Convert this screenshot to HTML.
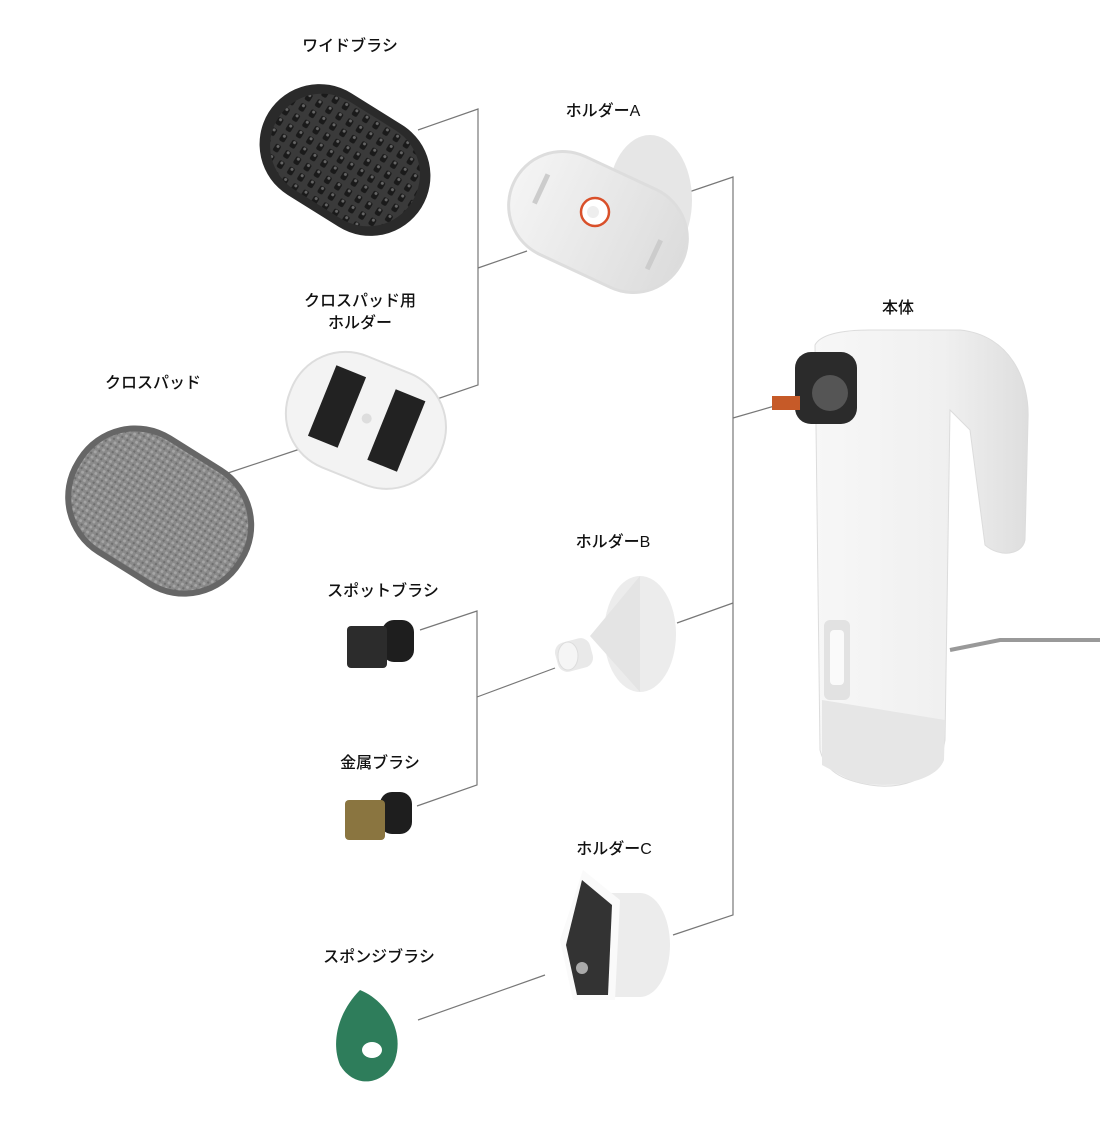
<!DOCTYPE html>
<html><head><meta charset="utf-8"><style>
html,body{margin:0;padding:0;background:#fff;}
svg{display:block;}
text{font-family:"Liberation Sans","Noto Sans CJK JP",sans-serif;font-size:16px;fill:#111;text-anchor:middle;font-weight:500;}
</style></head><body>
<svg width="1100" height="1138" viewBox="0 0 1100 1138">
<defs>
<pattern id="br" width="12" height="12" patternUnits="userSpaceOnUse"><rect width="12" height="12" fill="#3a3a3a"/><rect x="2" y="2" width="6" height="8" rx="2" fill="#1a1a1a"/><circle cx="5" cy="4" r="1.5" fill="#666"/></pattern>
<pattern id="cl" width="6" height="6" patternUnits="userSpaceOnUse"><rect width="6" height="6" fill="#8a8a8a"/><circle cx="2" cy="2" r="1.5" fill="#a5a5a5"/><circle cx="5" cy="5" r="1.2" fill="#6f6f6f"/></pattern>
<linearGradient id="wg" x1="0" x2="1"><stop offset="0" stop-color="#f4f4f4"/><stop offset="1" stop-color="#dcdcdc"/></linearGradient>
<linearGradient id="bg" x1="0" x2="1"><stop offset="0" stop-color="#f7f7f7"/><stop offset="0.6" stop-color="#f0f0f0"/><stop offset="1" stop-color="#dedede"/></linearGradient>
</defs>
<g stroke="#777" stroke-width="1.2" fill="none">
<polyline points="418,130 478,109 478,385 434,400"/>
<line x1="478" y1="268" x2="527" y2="251"/>
<polyline points="683,194 733,177 733,915 673,935"/>
<line x1="733" y1="418" x2="778" y2="405"/>
<line x1="677" y1="623" x2="733" y2="603"/>
<polyline points="420,630 477,611 477,785 417,806"/>
<line x1="477" y1="697" x2="555" y2="668"/>
<line x1="228" y1="473" x2="303" y2="448"/>
<line x1="418" y1="1020" x2="545" y2="975"/>
</g>
<text x="350" y="51">ワイドブラシ</text>
<text x="603" y="116">ホルダーA</text>
<text x="360" y="306">クロスパッド用</text>
<text x="360" y="328">ホルダー</text>
<text x="153" y="388">クロスパッド</text>
<text x="898" y="313">本体</text>
<text x="613" y="547">ホルダーB</text>
<text x="383" y="596">スポットブラシ</text>
<text x="380" y="768">金属ブラシ</text>
<text x="614" y="854">ホルダーC</text>
<text x="379" y="962">スポンジブラシ</text>
<!-- wide brush -->
<g transform="rotate(32 345 160)"><rect x="255" y="100" width="180" height="120" rx="60" fill="#2a2a2a"/><rect x="266" y="108" width="158" height="104" rx="52" fill="url(#br)"/></g>
<!-- holder A -->
<ellipse cx="650" cy="200" rx="42" ry="65" fill="#e6e6e6"/>
<g transform="rotate(25 598 222)"><rect x="505" y="168" width="186" height="108" rx="54" fill="url(#wg)" stroke="#ddd" stroke-width="3"/><rect x="530" y="200" width="5" height="32" fill="#ccc"/><rect x="660" y="212" width="5" height="32" fill="#ccc"/></g>
<circle cx="595" cy="212" r="14" fill="#fff" stroke="#d9502a" stroke-width="2.5"/><circle cx="593" cy="212" r="6" fill="#eee"/>
<!-- cloth pad holder -->
<g transform="rotate(22 365 420)"><rect x="285" y="360" width="162" height="120" rx="58" fill="#f3f3f3" stroke="#ddd" stroke-width="2"/><rect x="318" y="380" width="32" height="76" fill="#222"/><rect x="382" y="380" width="32" height="76" fill="#222"/><circle cx="366" cy="418" r="5" fill="#ddd"/></g>
<!-- cloth pad -->
<g transform="rotate(32 158 510)"><rect x="62" y="440" width="196" height="140" rx="68" fill="#666"/><rect x="68" y="446" width="184" height="128" rx="62" fill="url(#cl)"/></g>
<!-- spot brush -->
<rect x="382" y="620" width="32" height="42" rx="12" fill="#1e1e1e"/><rect x="347" y="626" width="40" height="42" rx="4" fill="#2c2c2c"/>
<!-- metal brush -->
<rect x="380" y="792" width="32" height="42" rx="12" fill="#1e1e1e"/><rect x="345" y="800" width="40" height="40" rx="4" fill="#8a7540"/>
<!-- holder B -->
<ellipse cx="640" cy="634" rx="36" ry="58" fill="#ececec"/><path d="M640 576 L590 636 L640 692 Z" fill="#e4e4e4"/><rect x="556" y="640" width="36" height="30" rx="10" fill="#e9e9e9" transform="rotate(-15 574 655)"/><ellipse cx="568" cy="656" rx="10" ry="14" fill="#f5f5f5" stroke="#ddd"/>
<!-- holder C -->
<ellipse cx="640" cy="945" rx="30" ry="52" fill="#ececec"/><rect x="600" y="893" width="40" height="104" fill="#ececec"/><path d="M583 870 L620 900 L615 1000 L573 1000 L560 940 Z" fill="#fafafa"/><path d="M582 880 L612 905 L608 995 L577 995 L566 945 Z" fill="#333"/><circle cx="582" cy="968" r="6" fill="#aaa"/>
<!-- sponge -->
<path d="M360 990 C340 1010 330 1040 340 1065 C355 1090 385 1085 395 1060 C405 1030 385 1000 360 990 Z" fill="#2e7d5b"/><ellipse cx="372" cy="1050" rx="10" ry="8" fill="#fff"/>
<!-- main body -->
<path d="M950 650 L1000 640 L1100 640" stroke="#999" stroke-width="4" fill="none"/>
<path d="M815 345 C820 335 840 330 870 330 L960 330 C1010 335 1030 380 1028 420 L1025 540 C1022 555 1000 558 985 545 L970 430 L950 410 L945 740 C940 780 900 790 870 785 C840 780 825 770 820 750 Z" fill="url(#bg)" stroke="#dcdcdc"/>
<rect x="824" y="620" width="26" height="80" rx="6" fill="#e2e2e2"/><rect x="830" y="630" width="14" height="55" rx="4" fill="#fafafa"/>
<path d="M822 700 L945 720 L944 760 C935 785 880 790 850 780 L822 765 Z" fill="#e6e6e6"/>
<rect x="795" y="352" width="62" height="72" rx="16" fill="#2b2b2b"/><circle cx="830" cy="393" r="18" fill="#555"/>
<rect x="772" y="396" width="28" height="14" fill="#c65a28"/>
</svg>
</body></html>
